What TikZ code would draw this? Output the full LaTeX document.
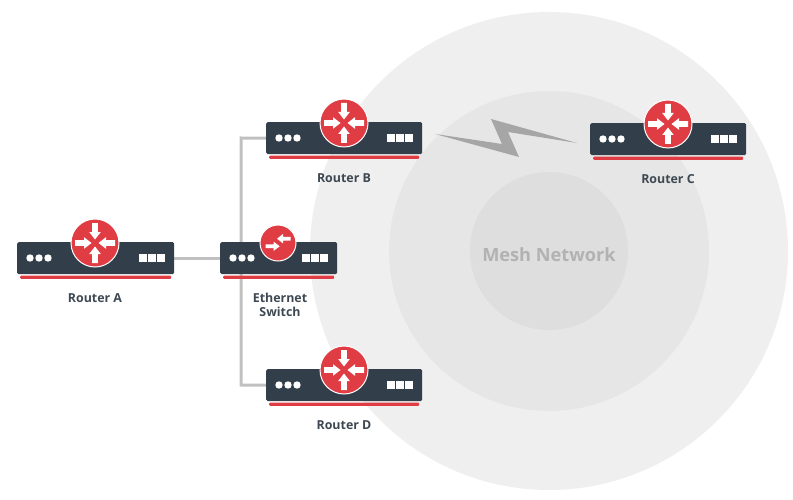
\documentclass[tikz,border=0pt]{standalone}
\usepackage{fontspec}
\setmainfont{Open Sans}
\usetikzlibrary{backgrounds}
\definecolor{bodyc}{HTML}{323F4A}
\definecolor{redc}{HTML}{E03C44}
\definecolor{linec}{HTML}{C0C0C0}
\definecolor{boltc}{HTML}{A6A6A6}
\definecolor{ringa}{HTML}{EFEFEF}
\definecolor{ringb}{HTML}{E6E6E6}
\definecolor{ringc}{HTML}{DEDEDE}
\definecolor{meshc}{HTML}{B2B2B2}
\definecolor{textc}{HTML}{3D4852}
\tikzset{
  x=1pt,y=-1pt,
  bodybox/.style={fill=bodyc,rounded corners=1.5pt,inner sep=0pt,minimum height=32pt},
  redbar/.style={fill=redc,rounded corners=1pt,inner sep=0pt,minimum height=3.2pt},
  hub/.style={circle,fill=redc,draw=white,line width=1pt,inner sep=0pt},
  caption/.style={font=\fontsize{12.4}{14}\selectfont\bfseries,text=textc,align=center,inner sep=0pt},
  ring/.style={circle,inner sep=0pt},
  link/.style={draw=linec,line width=3pt},
  led/.style={fill=white}
}
% #1 name, #2 left x, #3 top y, #4 width, #5 hub offset from left, #6 hub radius
\newcommand{\devicebox}[6]{%
  \node[bodybox,minimum width=#4pt,anchor=north west] (#1) at (#2,#3) {};
  \node[redbar,minimum width=#4pt-6pt,anchor=north] (#1bar) at ([yshift=-1pt]#1.south) {};
  \begin{scope}[shift={(#2,#3)}]
    \foreach \cx in {13,22,31}{\fill[led] (\cx,16) circle (3.7);}
    \foreach \cx in {#4-31,#4-22,#4-13}{\fill[led] (\cx-3.9,12.2) rectangle (\cx+3.9,19.8);}
    \node[hub,minimum size=2*#6 pt] (#1hub) at (#5,1) {};
  \end{scope}%
}
\newcommand{\arrowdn}{(-2.8,-20) -- (2.8,-20) -- (2.8,-11) -- (5.8,-11) -- (0,-3.5) -- (-5.8,-11) -- (-2.8,-11) -- cycle}
\begin{document}
\begin{tikzpicture}
\useasboundingbox (0,0) rectangle (793,500);
\devicebox{a}{17}{242}{157}{78}{24}
\devicebox{sw}{220}{242}{117}{58}{18}
\devicebox{b}{266}{122}{156}{78}{24}
\devicebox{c}{590}{123}{156}{78}{24}
\devicebox{d}{266}{369}{156}{78}{24}
\foreach \n in {a,b,c,d}{
  \begin{scope}[shift={(\n hub.center)}]
    \foreach \r in {0,90,180,270}{
      \fill[white,rotate=\r] \arrowdn;
    }
  \end{scope}
}
\begin{scope}[shift={(swhub.center)}]
  \fill[white] (-1,-4.3) -- (5,-9) -- (5,-6.2) -- (12.7,-6.2) -- (12.7,-2.4) -- (5,-2.4) -- (5,0.4) -- cycle;
  \fill[white] (1.7,3.3) -- (-4.5,-1.4) -- (-4.5,1.4) -- (-12.3,1.4) -- (-12.3,5.2) -- (-4.5,5.2) -- (-4.5,8) -- cycle;
\end{scope}
\node[caption] (la) at (95,298) {Router A};
\node[caption,font=\fontsize{12.4}{14.5}\selectfont\bfseries] (lsw) at (280,305) {Ethernet\\Switch};
\node[caption] (lb) at (344,178) {Router B};
\node[caption] (lc) at (668,179) {Router C};
\node[caption] (ld) at (344,425) {Router D};
\begin{scope}[on background layer]
  \node[ring,fill=ringa,minimum size=478pt] (outer) at (549,251) {};
  \node[ring,fill=ringb,minimum size=320pt] (middle) at (549,251) {};
  \node[ring,fill=ringc,minimum size=158pt] (inner) at (549,251) {};
  \node[font=\fontsize{18.2}{22}\selectfont\bfseries,text=meshc,inner sep=0pt] (mesh) at (549,255) {Mesh Network};
  \coordinate (trunktop) at (241,138);
  \coordinate (trunkbot) at (241,385);
  \draw[link] (a.east |- 0,258) -- (sw.west |- 0,258);
  \draw[link] (b.west) -- (trunktop) -- (trunkbot) -- (d.west);
\end{scope}
\fill[boltc] (435,134) -- (502,144) -- (491,119) -- (577,143) -- (508,132) -- (519,157) -- cycle;
\end{tikzpicture}
\end{document}
